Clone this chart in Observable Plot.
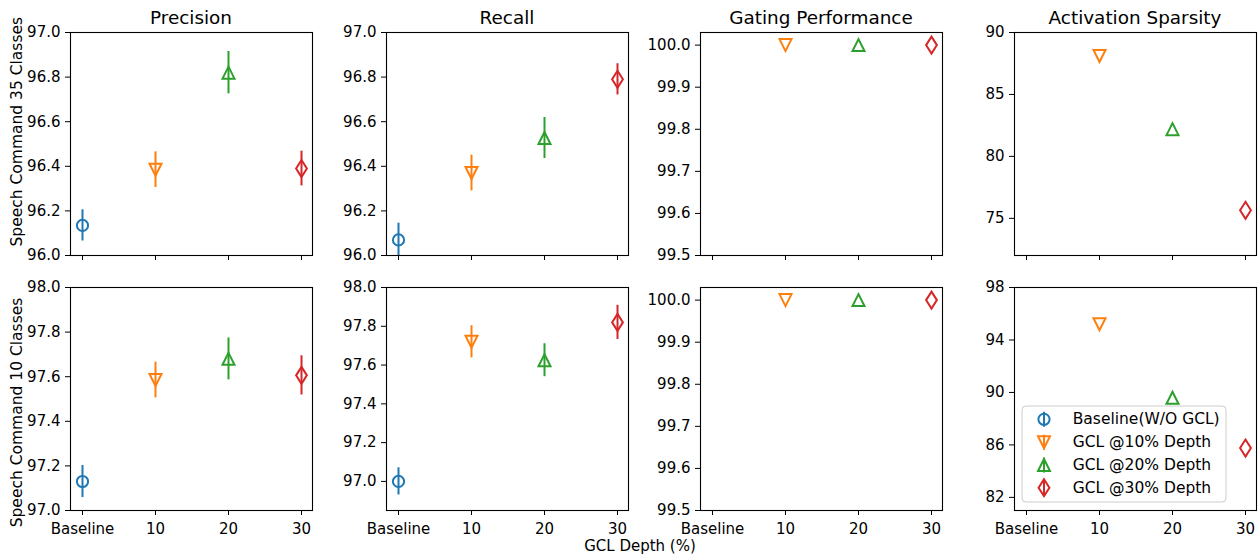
<!DOCTYPE html>
<html>
<head>
<meta charset="utf-8">
<script src="https://cdn.jsdelivr.net/npm/d3@7"></script>
<script src="https://cdn.jsdelivr.net/npm/@observablehq/plot@0.6"></script>
<style>
  body { margin: 0; background: #fff; }
  #chart { position: relative; width: 1259px; height: 554px; overflow: hidden; background: #fff; font-family: "DejaVu Sans", sans-serif; }
  #chart > svg { position: absolute; }
</style>
</head>
<body>
<div id="chart"></div>
<script>
// ---------- data ----------
const categories = ["Baseline", "10", "20", "30"];
const seriesNames = ["Baseline(W/O GCL)", "GCL @10% Depth", "GCL @20% Depth", "GCL @30% Depth"];
const seriesColors = ["#1f77b4", "#ff7f0e", "#2ca02c", "#d62728"];
const metricTitles = ["Precision", "Recall", "Gating Performance", "Activation Sparsity"];
const datasetLabels = ["Speech Command 35 Classes", "Speech Command 10 Classes"];
const xAxisLabel = "GCL Depth (%)";

// Speech Command 35 classes
const precision35 = [96.135, 96.385, 96.82, 96.39];
const precision35Err = [0.07, 0.08, 0.095, 0.078];
const recall35 = [96.07, 96.37, 96.527, 96.79];
const recall35Err = [0.075, 0.08, 0.092, 0.07];
const gating35 = [null, 100.0, 100.0, 100.0];
const gating35Err = [null, 0, 0, 0];
const sparsity35 = [null, 88.1, 82.2, 75.65];
const sparsity35Err = [null, 0, 0, 0];

// Speech Command 10 classes
const precision10 = [97.13, 97.585, 97.68, 97.606];
const precision10Err = [0.072, 0.08, 0.094, 0.088];
const recall10 = [97.0, 97.72, 97.625, 97.82];
const recall10Err = [0.07, 0.083, 0.085, 0.088];
const gating10 = [null, 100.0, 100.0, 100.0];
const gating10Err = [null, 0, 0, 0];
const sparsity10 = [null, 95.2, 89.6, 85.76];
const sparsity10Err = [null, 0, 0, 0];

// tick values
const ticksPR35 = [96.0, 96.2, 96.4, 96.6, 96.8, 97.0];
const ticksPR10 = [97.0, 97.2, 97.4, 97.6, 97.8, 98.0];
const ticksGating = [99.5, 99.6, 99.7, 99.8, 99.9, 100.0];
const ticksSparsity35 = [75, 80, 85, 90];
const ticksSparsity10 = [82, 86, 90, 94, 98];

// ---------- layout ----------
const colLeft = [70, 386, 700, 1014];
const rowTop = [32, 287];
const FW = 242, FH = 223;
const FONT = "DejaVu Sans";

const panels = [
  {row: 0, col: 0, vals: precision35, errs: precision35Err, domain: [96, 97], ticks: ticksPR35, fmt: ".1f"},
  {row: 0, col: 1, vals: recall35, errs: recall35Err, domain: [96, 97], ticks: ticksPR35, fmt: ".1f"},
  {row: 0, col: 2, vals: gating35, errs: gating35Err, domain: [99.5, 100.03], ticks: ticksGating, fmt: ".1f"},
  {row: 0, col: 3, vals: sparsity35, errs: sparsity35Err, domain: [72, 90], ticks: ticksSparsity35, fmt: "d"},
  {row: 1, col: 0, vals: precision10, errs: precision10Err, domain: [97, 98], ticks: ticksPR10, fmt: ".1f"},
  {row: 1, col: 1, vals: recall10, errs: recall10Err, domain: [96.85, 98], ticks: ticksPR10, fmt: ".1f"},
  {row: 1, col: 2, vals: gating10, errs: gating10Err, domain: [99.5, 100.03], ticks: ticksGating, fmt: ".1f"},
  {row: 1, col: 3, vals: sparsity10, errs: sparsity10Err, domain: [81, 98], ticks: ticksSparsity10, fmt: "d"}
];

// matplotlib-like unfilled markers: o, v, ^, d
const symCircle = {draw(ctx) { ctx.moveTo(5.6, 0); ctx.arc(0, 0, 5.6, 0, 2 * Math.PI); ctx.closePath(); }};
const symDown = {draw(ctx) { ctx.moveTo(-6, -6); ctx.lineTo(6, -6); ctx.lineTo(0, 6); ctx.closePath(); }};
const symUp = {draw(ctx) { ctx.moveTo(0, -6); ctx.lineTo(6, 6); ctx.lineTo(-6, 6); ctx.closePath(); }};
const symThinDiamond = {draw(ctx) { ctx.moveTo(0, -8.5); ctx.lineTo(5.4, 0); ctx.lineTo(0, 8.5); ctx.lineTo(-5.4, 0); ctx.closePath(); }};
const seriesSymbols = [symCircle, symDown, symUp, symThinDiamond];

const chart = document.getElementById("chart");

for (const p of panels) {
  const ml = 60, mr = 8, mt = 8, mb = p.row === 1 ? 34 : 10;
  const data = categories.map((c, i) => ({cat: c, s: i, v: p.vals[i], e: p.errs[i]}))
    .filter(d => d.v != null);
  const marks = [];
  marks.push(Plot.axisY({ticks: p.ticks, tickFormat: d3.format(p.fmt), tickSize: 5, tickPadding: 5, label: null}));
  marks.push(Plot.axisX({tickSize: 5, tickPadding: 7.5, label: null,
    tickFormat: p.row === 1 ? (d => d) : null}));
  for (let s = 0; s < seriesNames.length; s++) {
    const sub = data.filter(d => d.s === s);
    if (!sub.length) continue;
    marks.push(Plot.ruleX(sub.filter(d => d.e > 0), {
      x: "cat", y1: d => d.v - d.e, y2: d => d.v + d.e,
      stroke: seriesColors[s], strokeWidth: 2, clip: true
    }));
    marks.push(Plot.dot(sub, {
      x: "cat", y: "v", symbol: seriesSymbols[s], r: 6,
      stroke: seriesColors[s], fill: "none", strokeWidth: 2, strokeLinejoin: "miter"
    }));
  }
  marks.push(Plot.frame({stroke: "black", strokeWidth: 1.1}));
  const svg = Plot.plot({
    width: FW + ml + mr,
    height: FH + mt + mb,
    marginLeft: ml, marginRight: mr, marginTop: mt, marginBottom: mb,
    style: {fontFamily: FONT, fontSize: "15px", background: "transparent", color: "black", overflow: "visible"},
    x: {type: "point", domain: categories, padding: 0.15, label: null},
    y: {domain: p.domain, label: null},
    marks
  });
  svg.style.left = (colLeft[p.col] - ml) + "px";
  svg.style.top = (rowTop[p.row] - mt) + "px";
  chart.appendChild(svg);
}

// ---------- titles, labels and legend ----------
const overlay = d3.create("svg")
  .attr("width", 1259).attr("height", 554)
  .style("left", "0px").style("top", "0px")
  .style("pointer-events", "none")
  .attr("font-family", FONT);

metricTitles.forEach((t, c) => {
  overlay.append("text")
    .attr("x", colLeft[c] + FW / 2).attr("y", 23.5)
    .attr("text-anchor", "middle").attr("font-size", 18.4).attr("fill", "black")
    .text(t);
});

const yLabelCenters = [131.7, 412.5];
datasetLabels.forEach((t, r) => {
  overlay.append("text")
    .attr("transform", `translate(21.5,${yLabelCenters[r]}) rotate(-90)`)
    .attr("text-anchor", "middle").attr("font-size", 15.5).attr("fill", "black")
    .text(t);
});

overlay.append("text")
  .attr("x", 640).attr("y", 551)
  .attr("text-anchor", "middle").attr("font-size", 15).attr("fill", "black")
  .text(xAxisLabel);

// legend (lower-right panel)
const lg = overlay.append("g");
lg.append("rect")
  .attr("x", 1022).attr("y", 406).attr("width", 204).attr("height", 96)
  .attr("rx", 4).attr("fill", "white").attr("fill-opacity", 0.8)
  .attr("stroke", "#cccccc").attr("stroke-width", 1);
const rowY = [419.3, 442.3, 465, 487.7];
seriesNames.forEach((name, i) => {
  const g = lg.append("g").attr("transform", `translate(1044,${rowY[i]})`);
  g.append("line").attr("x1", 0).attr("x2", 0).attr("y1", -7.5).attr("y2", 7.5)
    .attr("stroke", seriesColors[i]).attr("stroke-width", 2);
  const path = d3.path();
  seriesSymbols[i].draw(path);
  g.append("path").attr("d", path.toString())
    .attr("fill", "none").attr("stroke", seriesColors[i]).attr("stroke-width", 2)
    .attr("stroke-linejoin", "miter");
  lg.append("text")
    .attr("x", 1072.7).attr("y", rowY[i] + 4.8)
    .attr("font-size", 15.5).attr("fill", "black")
    .text(name);
});

chart.appendChild(overlay.node());
</script>
</body>
</html>
